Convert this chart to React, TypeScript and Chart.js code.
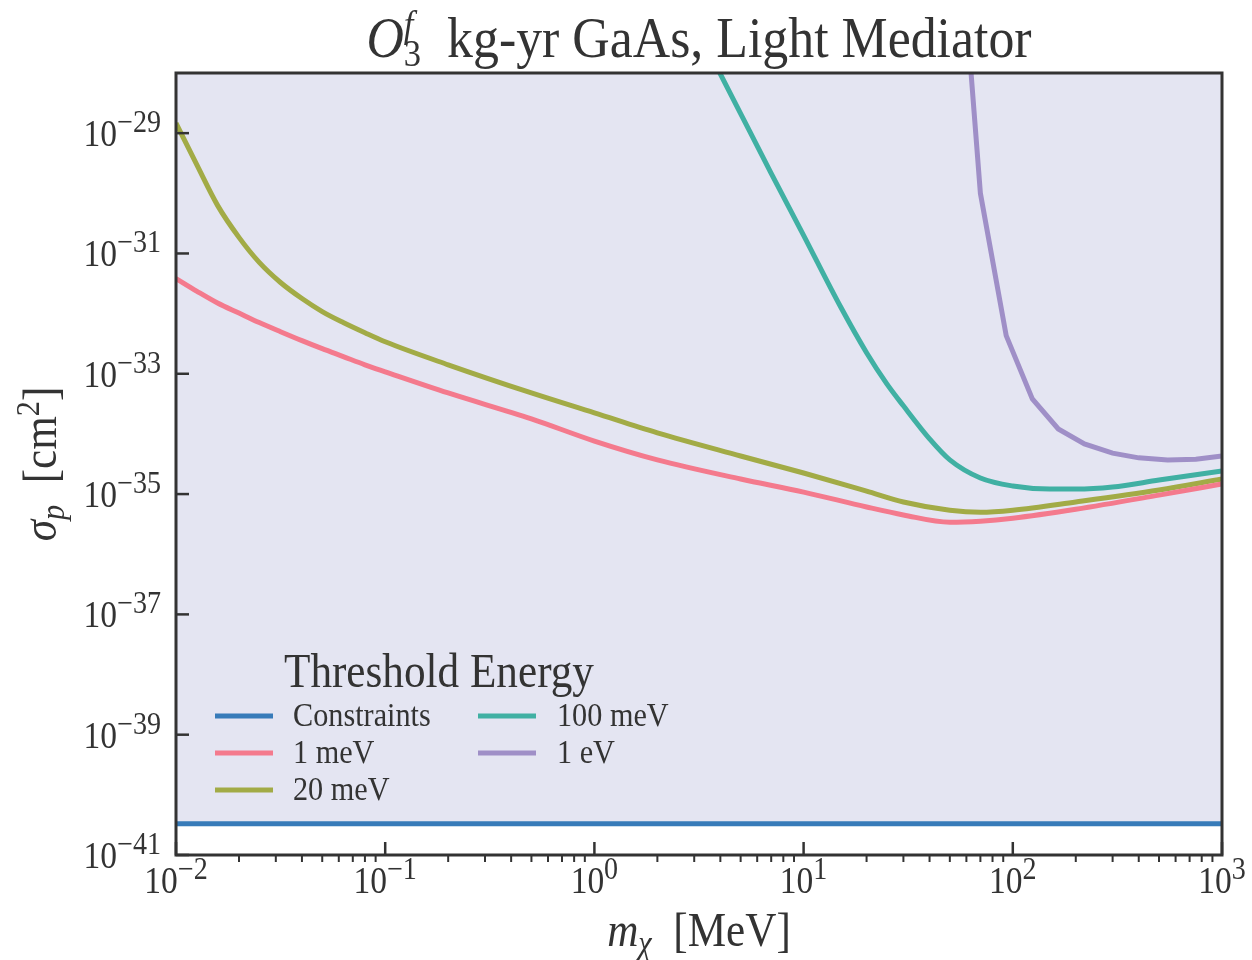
import React, { useEffect, useRef } from "react";
import { Chart, registerables } from "chart.js";

Chart.register(...registerables);

// ---------- data ----------
const massGrid = [0.01, 0.0126, 0.0158, 0.02, 0.025, 0.0316, 0.04, 0.05, 0.063, 0.08, 0.1, 0.2, 0.5, 1, 2, 5, 10, 20, 30, 50, 70, 100, 200, 500, 1000];
const sigma1meV = [3.83e-32, 2.35e-32, 1.5e-32, 1.02e-32, 7.1e-33, 5.0e-33, 3.55e-33, 2.61e-33, 1.93e-33, 1.41e-33, 1.08e-33, 4.8e-34, 1.78e-34, 7.6e-35, 3.7e-35, 1.78e-35, 1.08e-35, 6.1e-36, 4.5e-36, 3.4e-36, 3.55e-36, 3.98e-36, 5.6e-36, 9.6e-36, 1.47e-35];
const sigma20meV = [1.47e-29, 2.93e-30, 6.3e-31, 1.85e-31, 7.1e-32, 3.29e-32, 1.78e-32, 1.08e-32, 7.1e-33, 4.8e-33, 3.4e-33, 1.41e-33, 4.8e-34, 2.24e-34, 1.04e-34, 4.3e-35, 2.24e-35, 1.12e-35, 7.4e-36, 5.4e-36, 5.0e-36, 5.4e-36, 7.4e-36, 1.17e-35, 1.78e-35];
const mass100meV = [3, 5, 7, 10, 15, 20, 25, 30, 40, 50, 70, 100, 150, 200, 300, 500, 1000];
const sigma100meV = [6.8e-28, 2.11e-29, 2.15e-30, 2.0e-31, 1.31e-32, 2.24e-33, 6.8e-34, 2.93e-34, 8.3e-35, 3.7e-35, 1.85e-35, 1.36e-35, 1.21e-35, 1.21e-35, 1.31e-35, 1.71e-35, 2.42e-35];
const mass1eV = [60, 70, 93, 124, 165, 220, 300, 400, 550, 750, 1000];
const sigma1eV = [1e-27, 1.0e-30, 4.3e-33, 3.83e-34, 1.21e-34, 6.8e-35, 4.8e-35, 4.0e-35, 3.7e-35, 3.8e-35, 4.3e-35];
const massConstraint = [0.01, 1000];
const sigmaConstraint = [3.3e-41, 3.3e-41];

const seriesLabels = ["Constraints", "1 meV", "20 meV", "100 meV", "1 eV"];
const seriesColors = ["#377bb9", "#f47a8d", "#a2ab46", "#40b0a3", "#9f8fc7"];

const yTickExponents = [-41, -39, -37, -35, -33, -31, -29];
const xTickExponents = [-2, -1, 0, 1, 2, 3];

const X_MIN = 1e-2;
const X_MAX = 1e3;
const Y_MIN = 1e-41;
const Y_MAX = 1e-28;

// ---------- text helpers ----------
const FONT = '"Liberation Serif", "DejaVu Serif", serif';
const SX = 1.08;
const SY = 1.2;
const INK = "#333333";

type Run = { t: string; size: number; italic?: boolean; dy?: number; noAdvance?: boolean };

function setFont(ctx: CanvasRenderingContext2D, r: Run) {
  ctx.font = `${r.italic ? "italic " : ""}${r.size}px ${FONT}`;
}

function runsWidth(ctx: CanvasRenderingContext2D, runs: Run[]) {
  let w = 0;
  let pending = 0;
  for (const r of runs) {
    setFont(ctx, r);
    const rw = ctx.measureText(r.t).width;
    if (r.noAdvance) {
      pending = rw;
    } else {
      w += Math.max(rw, pending);
      pending = 0;
    }
  }
  return w + pending;
}

function drawRuns(
  ctx: CanvasRenderingContext2D,
  runs: Run[],
  x: number,
  y: number,
  align: "left" | "center" | "right",
  rotate = 0
) {
  const w = runsWidth(ctx, runs);
  ctx.save();
  ctx.translate(x, y);
  if (rotate) ctx.rotate(rotate);
  ctx.scale(SX, SY);
  let cx = align === "left" ? 0 : align === "center" ? -w / 2 : -w;
  ctx.fillStyle = INK;
  ctx.textBaseline = "alphabetic";
  ctx.textAlign = "left";
  let pending = 0;
  for (const r of runs) {
    setFont(ctx, r);
    const rw = ctx.measureText(r.t).width;
    ctx.fillText(r.t, cx, (r.dy || 0) / SY);
    if (r.noAdvance) {
      pending = rw;
    } else {
      cx += Math.max(rw, pending);
      pending = 0;
    }
  }
  ctx.restore();
}

function powerRuns(e: number): Run[] {
  const s = e < 0 ? "\u2212" + Math.abs(e) : String(e);
  return [
    { t: "10", size: 31 },
    { t: s, size: 26, dy: -14 },
  ];
}

// ---------- custom axes / labels / legend plugin ----------
const decorPlugin = {
  id: "decor",
  afterDraw(chart: any) {
    const ctx: CanvasRenderingContext2D = chart.ctx;
    const a = chart.chartArea;
    const xs = chart.scales.x;
    const ys = chart.scales.y;

    ctx.save();
    // spines
    ctx.strokeStyle = INK;
    ctx.lineWidth = 3;
    ctx.strokeRect(a.left, a.top, a.right - a.left, a.bottom - a.top);

    // y major ticks (inside)
    ctx.lineWidth = 2.5;
    for (const e of yTickExponents) {
      const py = ys.getPixelForValue(Math.pow(10, e));
      ctx.beginPath();
      ctx.moveTo(a.left, py);
      ctx.lineTo(a.left + 13, py);
      ctx.stroke();
      drawRuns(ctx, powerRuns(e), a.left - 15, py + 13, "right");
    }

    // x major ticks (inside) and labels
    for (const e of xTickExponents) {
      const px = xs.getPixelForValue(Math.pow(10, e));
      ctx.beginPath();
      ctx.moveTo(px, a.bottom);
      ctx.lineTo(px, a.bottom - 13);
      ctx.stroke();
      drawRuns(ctx, powerRuns(e), px, a.bottom + 38, "center");
    }
    // x minor ticks (outside)
    ctx.lineWidth = 2;
    for (let e = -2; e < 3; e++) {
      for (let k = 2; k <= 9; k++) {
        const px = xs.getPixelForValue(k * Math.pow(10, e));
        ctx.beginPath();
        ctx.moveTo(px, a.bottom);
        ctx.lineTo(px, a.bottom + 7);
        ctx.stroke();
      }
    }

    // title
    const cxPlot = (a.left + a.right) / 2;
    drawRuns(
      ctx,
      [
        { t: "O", size: 48, italic: true },
        { t: "3", size: 32, dy: 9, noAdvance: true },
        { t: "f", size: 32, italic: true, dy: -20 },
        { t: "  kg-yr GaAs, Light Mediator", size: 48 },
      ],
      cxPlot,
      57,
      "center"
    );

    // x axis title
    drawRuns(
      ctx,
      [
        { t: "m", size: 40, italic: true },
        { t: "\u03c7", size: 28, italic: true, dy: 8 },
        { t: "  [MeV]", size: 40 },
      ],
      cxPlot,
      946,
      "center"
    );

    // y axis title
    drawRuns(
      ctx,
      [
        { t: "\u03c3", size: 40, italic: true },
        { t: "p", size: 28, italic: true, dy: 8 },
        { t: "  [cm", size: 40 },
        { t: "2", size: 28, dy: -17 },
        { t: "]", size: 40 },
      ],
      56,
      (a.top + a.bottom) / 2,
      "center",
      -Math.PI / 2
    );

    // legend
    drawRuns(ctx, [{ t: "Threshold Energy", size: 40 }], 284, 687, "left");
    const cols = [
      { x0: 215, x1: 273, tx: 293 },
      { x0: 478, x1: 536, tx: 557 },
    ];
    const rowsY = [716, 753, 790];
    const ds = chart.data.datasets;
    ds.forEach((d: any, i: number) => {
      const col = cols[i < 3 ? 0 : 1];
      const ly = rowsY[i < 3 ? i : i - 3];
      ctx.strokeStyle = d.borderColor;
      ctx.lineWidth = 5;
      ctx.lineCap = "butt";
      ctx.beginPath();
      ctx.moveTo(col.x0, ly);
      ctx.lineTo(col.x1, ly);
      ctx.stroke();
      drawRuns(ctx, [{ t: d.label, size: 28 }], col.tx, ly + 10, "left");
    });
    ctx.restore();
  },
};

function pts(xs: number[], ys: number[]) {
  return xs.map((x, i) => ({ x, y: ys[i] }));
}

export default function App() {
  const ref = useRef<HTMLCanvasElement | null>(null);

  useEffect(() => {
    if (!ref.current) return;
    const line = (i: number, xs: number[], ys: number[], smooth: boolean) => ({
      label: seriesLabels[i],
      data: pts(xs, ys),
      borderColor: seriesColors[i],
      backgroundColor: seriesColors[i],
      borderWidth: 5,
      pointRadius: 0,
      fill: false,
      cubicInterpolationMode: smooth ? ("monotone" as const) : ("default" as const),
      tension: 0,
    });
    const chart = new Chart(ref.current, {
      type: "line",
      data: {
        datasets: [
          {
            ...line(0, massConstraint, sigmaConstraint, false),
            fill: "end",
            backgroundColor: "#e4e5f2",
          },
          line(1, massGrid, sigma1meV, true),
          line(2, massGrid, sigma20meV, true),
          line(3, mass100meV, sigma100meV, true),
          line(4, mass1eV, sigma1eV, false),
        ] as any,
      },
      options: {
        animation: false,
        responsive: false,
        devicePixelRatio: 1,
        layout: { padding: { left: 176, right: 30, top: 73, bottom: 105 } },
        scales: {
          x: { type: "logarithmic", min: X_MIN, max: X_MAX, display: false },
          y: { type: "logarithmic", min: Y_MIN, max: Y_MAX, display: false },
        },
        plugins: {
          legend: { display: false },
          tooltip: { enabled: false },
          filler: { drawTime: "beforeDatasetsDraw" },
        } as any,
      },
      plugins: [decorPlugin],
    });
    return () => chart.destroy();
  }, []);

  return (
    <div style={{ position: "absolute", left: 0, top: 0, width: 1252, height: 960, background: "#ffffff" }}>
      <canvas ref={ref} width={1252} height={960} />
    </div>
  );
}
